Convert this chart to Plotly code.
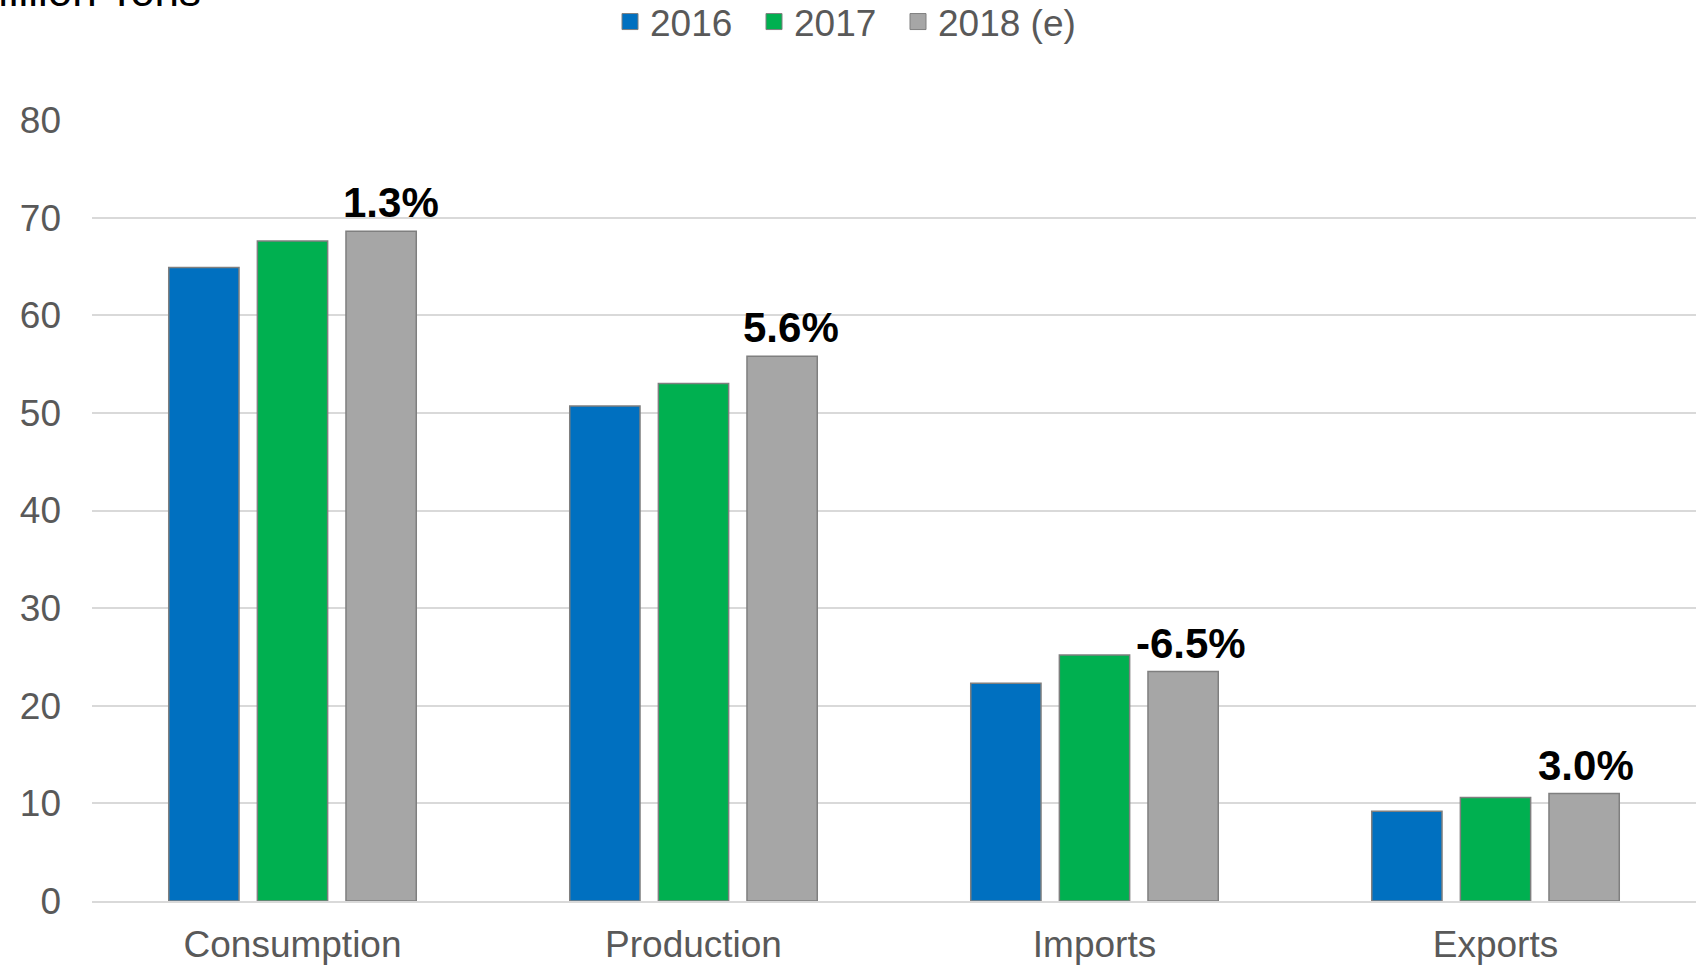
import plotly.graph_objects as go

categories = ["Consumption", "Production", "Imports", "Exports"]
series_names = ["2016", "2017", "2018 (e)"]
values_2016 = [64.9, 50.7, 22.3, 9.2]
values_2017 = [67.6, 53.0, 25.2, 10.6]
values_2018 = [68.6, 55.8, 23.5, 11.0]
pct_labels = ["1.3%", "5.6%", "-6.5%", "3.0%"]
y_ticks = [0, 10, 20, 30, 40, 50, 60, 70, 80]

colors = ["#0070C0", "#00B050", "#A6A6A6"]
FONT = "Liberation Sans, Arial, sans-serif"
OUTLINE = "#7F7F7F"

fig = go.Figure()
for name, vals, col in zip(series_names, [values_2016, values_2017, values_2018], colors):
    fig.add_trace(go.Bar(
        x=categories, y=vals, name=name, legendgroup=name, showlegend=False,
        marker=dict(color=col, line=dict(color=OUTLINE, width=1.5)),
    ))

# one legend per series so the entries can be spaced like the original
legend_ids = ["legend", "legend2", "legend3"]
swatch_centers = [630, 774, 918]   # px, horizontal centre of each swatch
for name, col, lid in zip(series_names, colors, legend_ids):
    fig.add_trace(go.Scatter(
        x=[None], y=[None], name=name, legendgroup=name, mode="markers",
        legend=lid,
        marker=dict(symbol="square", size=16, color=col, line=dict(color=OUTLINE, width=1)),
    ))

# percentage labels above the 2018 bars
label_dx = [10, 9, 8, 2]
slot_offset = 88.6
for cat, val, lab, dx in zip(categories, values_2018, pct_labels, label_dx):
    fig.add_annotation(x=cat, y=val, text=lab, showarrow=False,
                       xanchor="center", yanchor="bottom",
                       xshift=slot_offset + dx, yshift=3,
                       font=dict(family=FONT, size=42, color="#000000", weight="bold"))

legend_style = dict(orientation="h", xref="container", yref="container",
                    xanchor="left", y=1 - 22 / 965, yanchor="middle",
                    font=dict(size=37, color="#595959"), itemclick=False,
                    itemsizing="trace", bgcolor="rgba(0,0,0,0)")
legends = {lid: dict(legend_style, x=(c - 20) / 1696)
           for lid, c in zip(legend_ids, swatch_centers)}

fig.update_layout(
    width=1696, height=965,
    margin=dict(l=92, r=0, t=120, b=64),
    paper_bgcolor="white", plot_bgcolor="white",
    barmode="group", bargap=0.337, bargroupgap=0.207,
    font=dict(family=FONT, size=37, color="#595959"),
    xaxis=dict(showgrid=False, showline=True, linecolor="#D9D9D9", linewidth=2,
               ticks="", tickfont=dict(size=37, color="#595959"),
               ticklabelstandoff=10, automargin=False),
    yaxis=dict(range=[0, 80], tickvals=y_ticks, showgrid=True, gridcolor="#D9D9D9",
               gridwidth=2, zeroline=False, showline=False, ticks="",
               tickfont=dict(size=37, color="#595959"), ticklabelstandoff=30,
               automargin=False),
    showlegend=True,
    **legends,
)

fig.add_annotation(text="Million Tons", xref="paper", yref="paper",
                   x=(203 - 92) / 1604, xanchor="right",
                   y=(901 - 17) / 781, yanchor="bottom",
                   showarrow=False, font=dict(size=44, color="#000000"))

fig.write_html("out.html")
